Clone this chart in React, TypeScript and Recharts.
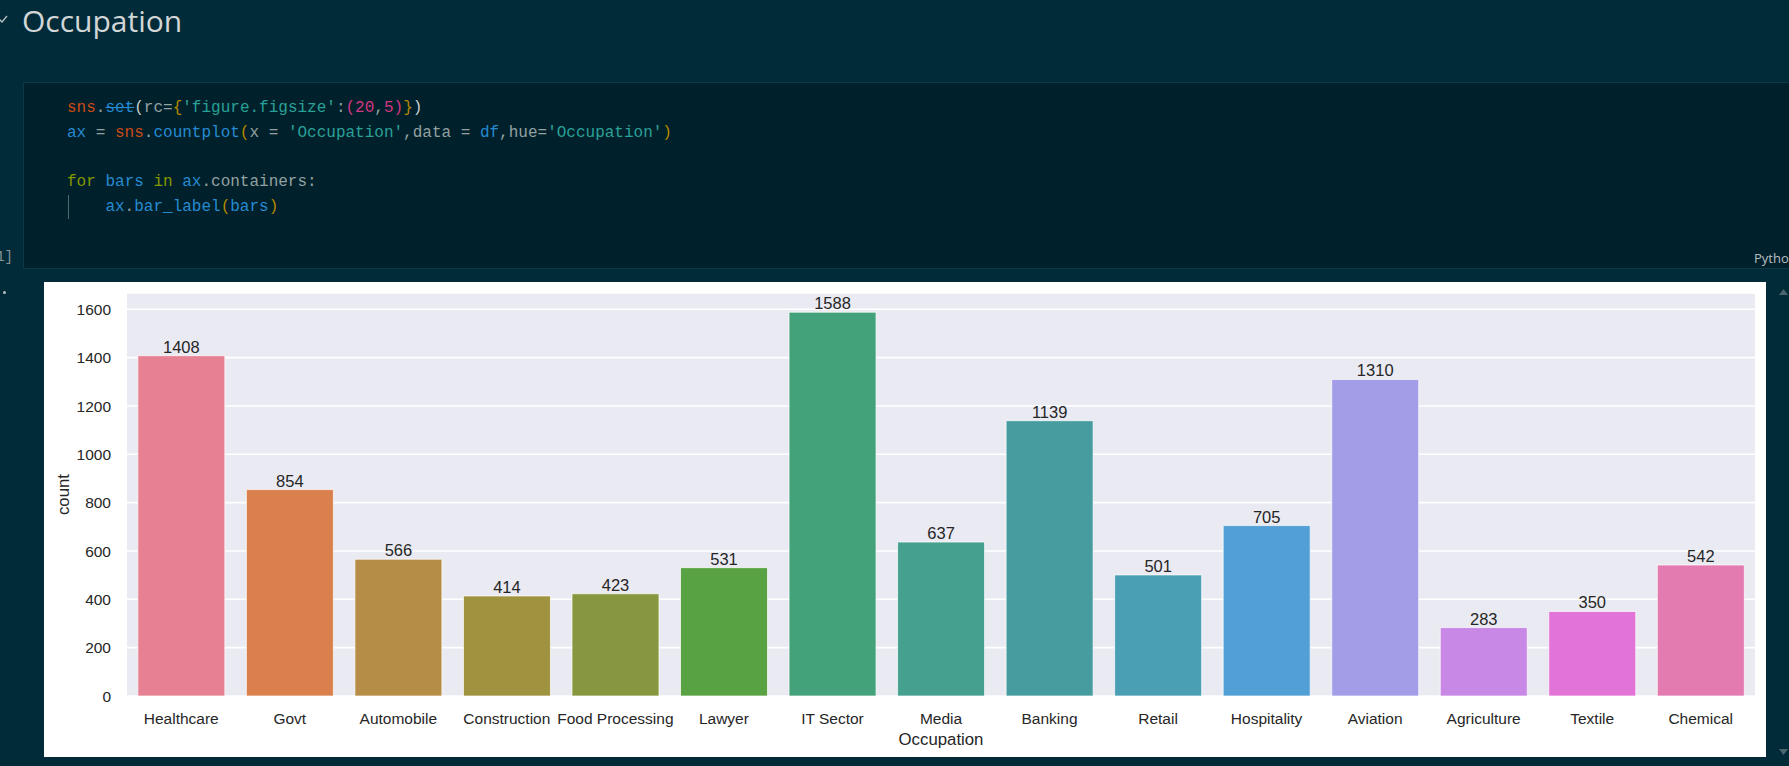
import React from 'react';
import { BarChart, Bar, XAxis, YAxis, CartesianGrid, Cell, LabelList, Label } from 'recharts';

const categories = ['Healthcare', 'Govt', 'Automobile', 'Construction', 'Food Processing', 'Lawyer', 'IT Sector', 'Media', 'Banking', 'Retail', 'Hospitality', 'Aviation', 'Agriculture', 'Textile', 'Chemical'];
const counts = [1408, 854, 566, 414, 423, 531, 1588, 637, 1139, 501, 705, 1310, 283, 350, 542];
const barColors = ['#e68193', '#da804c', '#b68d46', '#a09340', '#86973f', '#59a243', '#44a27a', '#46a08f', '#469c9e', '#4a9fb5', '#529fd6', '#a39de7', '#c888e5', '#e274d7', '#e37bb1'];
const yTicks = [0, 200, 400, 600, 800, 1000, 1200, 1400, 1600];
const yMax = 1667.4;

const data = categories.map((name, i) => ({ name, count: counts[i] }));

const TEXT = '#262626';
const FONT = '"Liberation Sans", Arial, sans-serif';

const XTick = (props: any) => {
  const { x, y, payload } = props;
  return (
    <text x={x} y={y + 27.5} textAnchor="middle" fill={TEXT} fontSize={15.5} fontFamily={FONT}>
      {payload.value}
    </text>
  );
};

const YTick = (props: any) => {
  const { x, y, payload } = props;
  return (
    <text x={x - 16} y={y} dy="0.36em" textAnchor="end" fill={TEXT} fontSize={15.5} fontFamily={FONT}>
      {payload.value}
    </text>
  );
};

const BarValue = (props: any) => {
  const { x, y, width, value } = props;
  return (
    <text x={x + width / 2} y={y - 3} textAnchor="middle" fill={TEXT} fontSize={16.5} fontFamily={FONT}>
      {value}
    </text>
  );
};

const YLabel = (props: any) => {
  const vb = props.viewBox || {};
  const cx = (vb.x || 0) + 19;
  const cy = (vb.y || 0) + (vb.height || 0) / 2;
  return (
    <text x={cx} y={cy} transform={`rotate(-90 ${cx} ${cy})`} textAnchor="middle" dy="0.36em" fill={TEXT} fontSize={16.8} fontFamily={FONT}>
      count
    </text>
  );
};

const XLabel = (props: any) => {
  const vb = props.viewBox || {};
  const cx = (vb.x || 0) + (vb.width || 0) / 2;
  const cy = (vb.y || 0) + 49;
  return (
    <text x={cx} y={cy} textAnchor="middle" fill={TEXT} fontSize={16.8} fontFamily={FONT}>
      Occupation
    </text>
  );
};

const C = {
  orange: '#cb4b16',
  gray: '#93a1a1',
  light: '#c8cfcf',
  blue: '#268bd2',
  yellow: '#b58900',
  cyan: '#2aa198',
  magenta: '#d33682',
  green: '#859900',
};

type Tok = [string, string, boolean?];
const codeLines: Tok[][] = [
  [['sns', C.orange], ['.', C.gray], ['set', C.blue, true], ['(', C.light], ['rc', C.gray], ['=', C.gray], ['{', C.yellow], ["'figure.figsize'", C.cyan], [':', C.gray], ['(', C.magenta], ['20', C.magenta], [',', C.gray], ['5', C.magenta], [')', C.magenta], ['}', C.yellow], [')', C.light]],
  [['ax', C.blue], [' = ', C.gray], ['sns', C.orange], ['.', C.gray], ['countplot', C.blue], ['(', C.yellow], ['x = ', C.gray], ["'Occupation'", C.cyan], [',data = ', C.gray], ['df', C.blue], [',hue=', C.gray], ["'Occupation'", C.cyan], [')', C.yellow]],
  [],
  [['for', C.green], [' ', C.gray], ['bars', C.blue], [' ', C.gray], ['in', C.green], [' ', C.gray], ['ax', C.blue], ['.containers:', C.gray]],
  [['    ', C.gray], ['ax', C.blue], ['.', C.gray], ['bar_label', C.blue], ['(', C.yellow], ['bars', C.blue], [')', C.yellow]],
];

export default function App() {
  return (
    <div style={{ position: 'absolute', left: 0, top: 0, width: 1789, height: 766, background: '#012b39', overflow: 'hidden' }}>
      {/* collapse chevron */}
      <svg style={{ position: 'absolute', left: 0, top: 14 }} width={10} height={12}>
        <polyline points="-2,4 2,8 7,2" fill="none" stroke="#b9c2c4" strokeWidth={1.3} />
      </svg>
      {/* heading */}
      <div style={{ position: 'absolute', left: 22, top: 1, fontFamily: '"Open Sans", "Noto Sans", sans-serif', fontSize: 30, color: '#d2d6d6', lineHeight: '40px', whiteSpace: 'nowrap' }}>
        Occupation
      </div>
      {/* code cell */}
      <div style={{ position: 'absolute', left: 23, top: 82, width: 1780, height: 187, background: '#00202b', border: '1px solid #0b3a47', boxSizing: 'border-box' }} />
      {codeLines.map((line, li) => (
        <div key={li} style={{ position: 'absolute', left: 67, top: 96 + li * 24.8, height: 25, lineHeight: '25px', fontFamily: '"Liberation Mono", "DejaVu Sans Mono", monospace', fontSize: 16, whiteSpace: 'pre' }}>
          {line.map((t, ti) => (
            <span key={ti} style={{ color: t[1], textDecoration: t[2] ? 'line-through' : 'none' }}>{t[0]}</span>
          ))}
        </div>
      ))}
      <div style={{ position: 'absolute', left: 68, top: 195, width: 1, height: 24, background: '#4f6a70' }} />
      <div style={{ position: 'absolute', right: 1776, top: 247, fontFamily: '"Liberation Mono", monospace', fontSize: 14, color: '#8b9598', whiteSpace: 'pre', lineHeight: '20px' }}>[31]</div>
      <div style={{ position: 'absolute', left: 1754, top: 248, fontFamily: '"Open Sans", "Noto Sans", sans-serif', fontSize: 13, color: '#b8bfc0', whiteSpace: 'nowrap', lineHeight: '20px' }}>Python</div>
      <div style={{ position: 'absolute', left: 3, top: 291, width: 3, height: 3, background: '#b8bfc0', borderRadius: 2 }} />
      {/* scroll arrows */}
      <svg style={{ position: 'absolute', left: 1778, top: 288 }} width={11} height={8}>
        <polygon points="1,7 5.5,1 10,7" fill="#4c6670" />
      </svg>
      <svg style={{ position: 'absolute', left: 1778, top: 748 }} width={11} height={8}>
        <polygon points="1,1 5.5,7 10,1" fill="#4c6670" />
      </svg>
      {/* chart */}
      <div style={{ position: 'absolute', left: 44, top: 282, width: 1722, height: 475, background: '#ffffff' }}>
        <BarChart width={1722} height={475} data={data} margin={{ top: 11, right: 11, bottom: 0, left: 0 }} barCategoryGap="10%">
          <CartesianGrid vertical={false} stroke="#ffffff" strokeWidth={1.6} fill="#eaeaf2" />
          <XAxis dataKey="name" height={61} tickLine={false} axisLine={false} tickSize={0} tickMargin={0} interval={0} tick={<XTick />}>
            <Label content={<XLabel />} />
          </XAxis>
          <YAxis width={83} domain={[0, yMax]} ticks={yTicks} tickLine={false} axisLine={false} tickSize={0} tickMargin={0} tick={<YTick />} allowDataOverflow>
            <Label content={<YLabel />} />
          </YAxis>
          <Bar dataKey="count" isAnimationActive={false} stroke="#ffffff" strokeWidth={1} strokeOpacity={0.7}>
            {data.map((d, i) => (
              <Cell key={d.name} fill={barColors[i]} />
            ))}
            <LabelList dataKey="count" content={<BarValue />} />
          </Bar>
        </BarChart>
      </div>
    </div>
  );
}
